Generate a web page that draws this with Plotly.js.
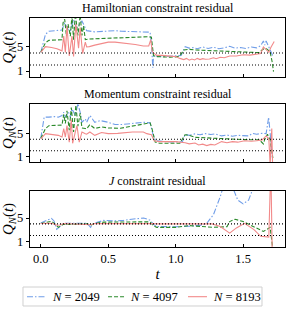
<!DOCTYPE html>
<html><head><meta charset="utf-8">
<script src="https://cdn.plot.ly/plotly-3.0.1.min.js"></script>
<style>html,body{margin:0;padding:0;background:#fff}#chart{width:299px;height:313px}</style>
</head><body><div id="chart"></div>
<script>
// ---------- data ----------
const seriesNames = ['<i>N</i> = 2049', '<i>N</i> = 4097', '<i>N</i> = 8193'];
const panelTitles = ['Hamiltonian constraint residual', 'Momentum constraint residual', '<i>J</i> constraint residual'];
const refLevels = [2, 4];
const xTickVals = [0, 0.5, 1.0, 1.5];
const xTickText = ['0.0', '0.5', '1.0', '1.5'];
const yTickVals = [1, 5];

// Hamiltonian
const hT2049 = [0, 0.035, 0.06, 0.1, 0.157, 0.177, 0.2, 0.219, 0.243, 0.262, 0.28, 0.305, 0.34, 0.4, 0.45, 0.5, 0.55, 0.6, 0.65, 0.7, 0.75, 0.81, 0.822, 0.83, 0.836, 0.845, 0.87, 0.9, 0.95, 1.0, 1.04, 1.07, 1.1, 1.13, 1.16, 1.2, 1.24, 1.28, 1.32, 1.36, 1.4, 1.44, 1.48, 1.52, 1.56, 1.6, 1.63, 1.65, 1.66, 1.67, 1.69, 1.705, 1.72];
const hQ2049 = [4.1, 7.1, 7.6, 7.7, 7.8, 9.0, 8.0, 7.7, 9.5, 8.2, 8.5, 9.3, 7.7, 7.5, 7.55, 7.65, 7.7, 7.6, 7.55, 7.5, 7.45, 7.45, 5.0, 1.55, 3.6, 3.5, 3.45, 3.35, 3.45, 3.5, 3.6, 5.05, 4.8, 4.9, 4.7, 5.0, 4.75, 4.95, 4.7, 4.85, 5.1, 4.8, 4.9, 4.75, 5.0, 4.85, 5.2, 6.0, 5.3, 6.0, 5.0, 4.2, 3.5];
const hT4097 = [0, 0.035, 0.06, 0.1, 0.157, 0.165, 0.177, 0.19, 0.202, 0.219, 0.231, 0.243, 0.256, 0.275, 0.292, 0.305, 0.317, 0.33, 0.354, 0.4, 0.45, 0.5, 0.55, 0.6, 0.65, 0.7, 0.75, 0.8, 0.82, 0.835, 0.85, 0.88, 0.92, 0.96, 1.0, 1.03, 1.06, 1.1, 1.15, 1.2, 1.3, 1.4, 1.5, 1.58, 1.62, 1.64, 1.66, 1.68, 1.70, 1.715, 1.725];
const hQ4097 = [4.1, 5.7, 6.1, 6.15, 6.2, 9.0, 9.6, 6.8, 8.8, 6.8, 10.2, 6.2, 10.5, 6.9, 10.3, 6.9, 8.5, 6.2, 6.3, 6.35, 6.4, 6.5, 6.55, 6.6, 6.6, 6.65, 6.7, 6.7, 6.6, 3.6, 3.4, 3.35, 3.3, 3.3, 3.35, 3.5, 4.5, 4.6, 4.5, 4.45, 4.35, 4.25, 4.15, 4.05, 4.05, 4.5, 4.8, 4.6, 4.1, 2.5, 0.9];
const hT8193 = [0, 0.035, 0.08, 0.12, 0.157, 0.17, 0.182, 0.194, 0.211, 0.231, 0.243, 0.26, 0.28, 0.292, 0.31, 0.33, 0.34, 0.36, 0.4, 0.45, 0.5, 0.55, 0.6, 0.65, 0.7, 0.76, 0.8, 0.815, 0.825, 0.835, 0.86, 0.9, 0.95, 1.0, 1.03, 1.06, 1.08, 1.1, 1.12, 1.14, 1.16, 1.18, 1.2, 1.22, 1.25, 1.28, 1.3, 1.33, 1.36, 1.4, 1.45, 1.5, 1.55, 1.6, 1.63, 1.65, 1.67, 1.69, 1.705, 1.72, 1.73];
const hQ8193 = [4.1, 5.05, 4.9, 4.7, 4.35, 6.8, 4.1, 8.5, 3.5, 6.8, 3.4, 8.8, 4.8, 8.2, 3.9, 5.8, 5.0, 5.05, 5.3, 5.5, 5.8, 5.8, 5.7, 5.6, 5.4, 5.15, 5.15, 6.2, 4.3, 4.0, 3.6, 3.6, 3.5, 3.4, 3.1, 2.9, 3.1, 2.8, 3.0, 2.85, 3.1, 2.9, 3.05, 2.95, 3.0, 3.2, 3.05, 3.3, 3.2, 3.5, 3.5, 3.7, 3.65, 3.8, 3.9, 5.0, 4.6, 4.1, 4.9, 5.6, 5.9];

// Momentum
const mT2049 = [0, 0.025, 0.06, 0.1, 0.13, 0.157, 0.17, 0.182, 0.206, 0.219, 0.231, 0.256, 0.275, 0.292, 0.305, 0.33, 0.34, 0.364, 0.4, 0.44, 0.5, 0.55, 0.6, 0.65, 0.7, 0.76, 0.81, 0.83, 0.85, 0.9, 0.95, 1.0, 1.05, 1.07, 1.1, 1.14, 1.18, 1.22, 1.26, 1.29, 1.34, 1.38, 1.42, 1.46, 1.5, 1.54, 1.57, 1.6, 1.64, 1.67, 1.689, 1.70, 1.71, 1.716];
const mQ2049 = [4.17, 7.9, 7.9, 8.0, 7.9, 8.2, 8.75, 7.9, 8.75, 7.9, 9.35, 8.2, 10.3, 8.75, 7.0, 7.6, 7.0, 8.2, 7.0, 7.3, 7.0, 6.6, 6.6, 6.75, 6.85, 7.0, 6.9, 5.0, 3.75, 3.6, 3.55, 3.55, 3.6, 4.9, 4.7, 4.95, 4.8, 5.0, 4.85, 4.95, 4.6, 4.75, 4.55, 4.7, 4.6, 4.6, 5.05, 4.9, 5.05, 5.0, 7.9, 4.45, 2.3, 0.8];
const mT4097 = [0, 0.035, 0.06, 0.15, 0.157, 0.17, 0.182, 0.194, 0.211, 0.226, 0.243, 0.26, 0.275, 0.292, 0.305, 0.33, 0.34, 0.364, 0.4, 0.45, 0.5, 0.59, 0.65, 0.72, 0.786, 0.81, 0.823, 0.848, 0.88, 0.95, 1.03, 1.069, 1.1, 1.143, 1.25, 1.35, 1.45, 1.51, 1.62, 1.65, 1.66, 1.68, 1.70, 1.72];
const mQ4097 = [4.17, 5.9, 6.4, 6.4, 6.5, 8.4, 6.8, 9.0, 5.6, 9.6, 5.3, 10.0, 6.3, 8.6, 6.0, 5.9, 5.85, 6.6, 5.9, 6.2, 6.0, 5.95, 6.2, 6.5, 6.9, 6.9, 6.0, 3.5, 3.3, 3.3, 3.3, 4.8, 4.7, 4.35, 4.2, 4.1, 4.0, 3.95, 3.9, 3.2, 4.0, 4.9, 3.9, 0.7];
const mT8193 = [0, 0.035, 0.13, 0.157, 0.17, 0.182, 0.194, 0.211, 0.226, 0.236, 0.256, 0.268, 0.285, 0.305, 0.33, 0.34, 0.364, 0.4, 0.45, 0.5, 0.57, 0.68, 0.76, 0.786, 0.82, 0.84, 0.88, 0.95, 1.0, 1.07, 1.1, 1.143, 1.17, 1.2, 1.23, 1.26, 1.29, 1.34, 1.38, 1.42, 1.46, 1.51, 1.56, 1.6, 1.64, 1.67, 1.69, 1.70, 1.712, 1.718];
const mQ8193 = [4.1, 5.0, 4.7, 4.4, 5.9, 4.4, 6.4, 3.5, 7.5, 3.3, 5.3, 6.4, 3.5, 5.3, 5.0, 4.9, 5.3, 4.7, 5.2, 5.0, 5.05, 5.3, 5.3, 5.0, 4.8, 3.75, 3.6, 3.6, 3.6, 3.4, 3.2, 3.35, 3.0, 3.15, 2.9, 3.1, 3.0, 3.6, 3.4, 3.6, 3.5, 3.75, 3.65, 3.75, 3.9, 4.6, 4.1, -0.5, 5.9, -0.5];

// J
const jT2049 = [0, 0.049, 0.079, 0.098, 0.118, 0.135, 0.172, 0.344, 0.369, 0.393, 0.467, 0.54, 0.614, 0.688, 0.762, 0.81, 0.836, 0.86, 1.0, 1.1, 1.2, 1.23, 1.28, 1.33, 1.36, 1.40, 1.43, 1.46, 1.50, 1.54, 1.57, 1.62, 1.7];
const jQ2049 = [4.15, 4.6, 4.95, 4.5, 3.05, 3.4, 4.1, 4.1, 3.4, 4.1, 4.6, 4.5, 4.6, 4.85, 5.0, 4.65, 3.9, 3.55, 3.5, 3.6, 3.8, 4.1, 5.6, 8.7, 11, 11, 9.85, 8.1, 7.45, 8.1, 9.85, 13, 15];
const jT4097 = [0, 0.049, 0.079, 0.11, 0.13, 0.165, 0.344, 0.369, 0.393, 0.467, 0.614, 0.74, 0.81, 0.836, 0.86, 1.0, 1.1, 1.28, 1.38, 1.40, 1.44, 1.5, 1.58, 1.65, 1.70, 1.715, 1.72];
const jQ4097 = [4.05, 4.35, 4.45, 3.9, 3.4, 3.9, 4.0, 3.7, 4.05, 4.3, 4.35, 4.4, 4.35, 3.65, 3.4, 3.4, 3.7, 3.4, 3.5, 4.4, 4.8, 4.4, 3.55, 2.7, 3.4, 0.4, -0.5];
const jT8193 = [0, 0.08, 0.12, 0.14, 0.17, 0.37, 0.4, 0.6, 0.83, 0.86, 1.27, 1.33, 1.40, 1.45, 1.51, 1.58, 1.63, 1.69, 1.705, 1.715];
const jQ8193 = [4.05, 4.1, 3.75, 3.8, 4.05, 3.85, 4.05, 4.1, 4.05, 4.0, 4.0, 3.55, 2.4, 3.3, 4.1, 3.0, 1.85, 1.7, 14, -0.5];

// ---------- styling ----------
const colors = ['#6f9de8', '#2b8a2b', '#f28a8a'];
const dashes = ['6px,2px,1.5px,2px', '4px,2px', 'solid'];
const FONT = 'Liberation Serif, Times New Roman, serif';

const panels = [
  [[hT2049, hQ2049], [hT4097, hQ4097], [hT8193, hQ8193]],
  [[mT2049, mQ2049], [mT4097, mQ4097], [mT8193, mQ8193]],
  [[jT2049, jQ2049], [jT4097, jQ4097], [jT8193, jQ8193]]
];

const traces = [];
panels.forEach((p, pi) => {
  p.forEach((s, si) => {
    traces.push({
      x: s[0], y: s[1], type: 'scatter', mode: 'lines',
      name: seriesNames[si], showlegend: false,
      xaxis: 'x' + (pi === 0 ? '' : pi + 1), yaxis: 'y' + (pi === 0 ? '' : pi + 1),
      line: {color: colors[si], width: 1.1, dash: dashes[si]}
    });
  });
});

const doms = [[0.742, 1], [0.371, 0.624], [0, 0.245]];
const yRanges = [[0, 9.8], [0, 10.2], [0, 9.7]];
const layout = {
  width: 299, height: 313,
  margin: {l: 30, r: 14, t: 18, b: 66},
  paper_bgcolor: '#fff', plot_bgcolor: '#fff',
  font: {family: FONT, size: 12, color: '#000'},
  showlegend: false,
  shapes: [], annotations: []
};
for (let i = 0; i < 3; i++) {
  const sfx = i === 0 ? '' : String(i + 1);
  layout['xaxis' + sfx] = {
    domain: [0, 1], anchor: 'y' + sfx, range: [-0.08, 1.81],
    tickvals: xTickVals, ticktext: xTickText, showticklabels: i === 2,
    ticks: 'inside', ticklen: 3, tickcolor: '#000', showgrid: false, zeroline: false,
    showline: true, mirror: true, linecolor: '#000', linewidth: 1.2,
    tickfont: {family: FONT, size: 12.5},
    title: i === 2 ? {text: '<i>t</i>', font: {family: FONT, size: 15}, standoff: 3} : {text: ''}
  };
  layout['yaxis' + sfx] = {
    domain: doms[i], anchor: 'x' + sfx, range: yRanges[i],
    tickvals: yTickVals, ticks: 'outside', ticklen: 3, tickcolor: '#000',
    showgrid: false, zeroline: false, showline: true, mirror: true,
    linecolor: '#000', linewidth: 1.2, tickfont: {family: FONT, size: 12.5},
    title: {text: '<i>Q</i><sub><i>N</i></sub>(<i>t</i>)', font: {family: FONT, size: 15}, standoff: 3}
  };
  refLevels.forEach(v => layout.shapes.push({
    type: 'line', xref: 'x' + sfx + ' domain', x0: 0, x1: 1, yref: 'y' + sfx, y0: v, y1: v,
    line: {color: '#000', width: 1.1, dash: '1px,2px'}
  }));
  layout.annotations.push({
    text: panelTitles[i], xref: 'paper', yref: 'paper', x: 0.5, y: doms[i][1],
    yshift: 1, xanchor: 'center', yanchor: 'bottom', showarrow: false,
    font: {family: FONT, size: 12}
  });
}

// ---------- legend (drawn as a framed row below the plots) ----------
const legBox = {x0: -0.0275, x1: 0.9098, y0: -0.2576, y1: -0.1747};
const legY = -0.217;
const legSample = [[-0.0118, 0.0627], [0.306, 0.373], [0.6196, 0.694]];
const legTextX = [0.0784, 0.384, 0.71];
layout.shapes.push({type: 'rect', xref: 'paper', yref: 'paper', x0: legBox.x0, x1: legBox.x1,
  y0: legBox.y0, y1: legBox.y1, line: {color: '#d0d0d0', width: 1}, fillcolor: 'rgba(255,255,255,0.8)'});
seriesNames.forEach((n, i) => {
  layout.shapes.push({type: 'line', xref: 'paper', yref: 'paper', x0: legSample[i][0], x1: legSample[i][1],
    y0: legY, y1: legY, line: {color: colors[i], width: 1.1, dash: dashes[i]}});
  layout.annotations.push({text: n, xref: 'paper', yref: 'paper', x: legTextX[i], y: legY,
    xanchor: 'left', yanchor: 'middle', showarrow: false, font: {family: FONT, size: 12.5}});
});

Plotly.newPlot('chart', traces, layout, {staticPlot: true, displayModeBar: false});
</script></body></html>
